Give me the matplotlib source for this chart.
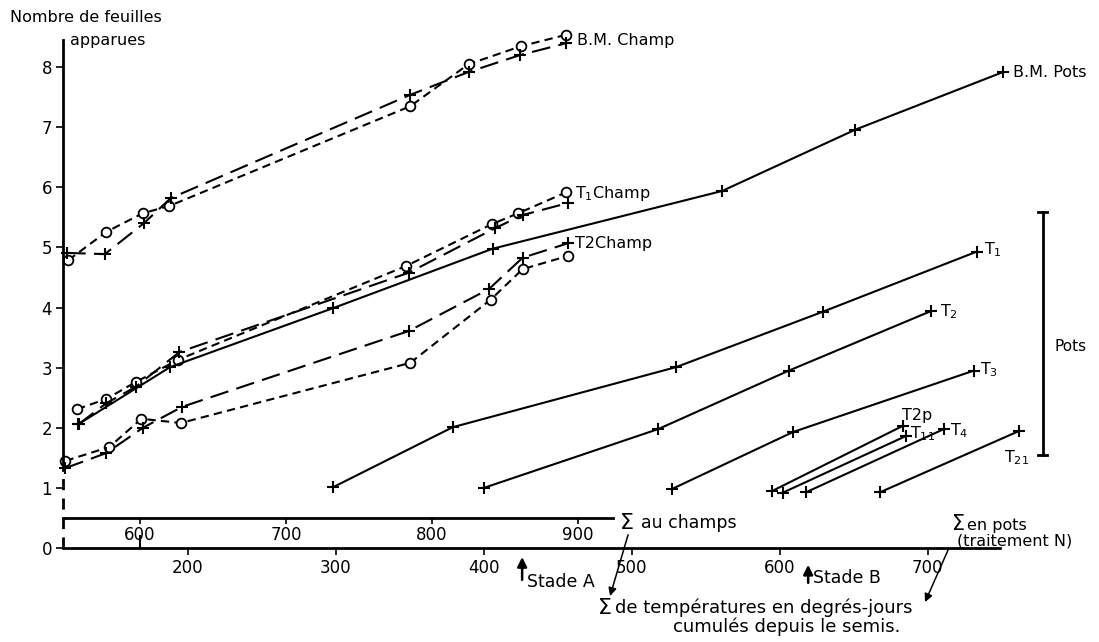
import numpy as np
import matplotlib
matplotlib.use("Agg")
import matplotlib.pyplot as plt

plt.rcParams['font.family'] = ['DejaVu Sans']

# sommes de temperatures : champ -> pots (echelle du bas)
def c_to_p(c):
    return 167.6 + (np.asarray(c, dtype=float) - 600) / 1.013

def p_to_c(p):
    return 600 + (np.asarray(p, dtype=float) - 167.6) * 1.013

# champ (degres-jours au champ)
bm_champ_o_x = [551, 577, 602, 620, 785, 825, 861, 892]
bm_champ_o_y = [4.79, 5.26, 5.57, 5.69, 7.35, 8.05, 8.35, 8.54]
bm_champ_c_x = [550, 576, 603, 621, 785, 825, 860, 892]
bm_champ_c_y = [4.91, 4.89, 5.41, 5.82, 7.54, 7.92, 8.20, 8.40]
t1_champ_o_x = [557, 577, 597, 626, 782, 841, 859, 892]
t1_champ_o_y = [2.31, 2.48, 2.76, 3.13, 4.69, 5.39, 5.57, 5.92]
t1_champ_c_x = [558, 577, 597, 627, 784, 843, 862, 893]
t1_champ_c_y = [2.06, 2.41, 2.68, 3.26, 4.58, 5.32, 5.54, 5.74]
t2_champ_o_x = [549, 579, 601, 628, 785, 840, 862, 893]
t2_champ_o_y = [1.45, 1.68, 2.15, 2.08, 3.08, 4.13, 4.64, 4.86]
t2_champ_c_x = [549, 577, 602, 629, 784, 839, 862, 893]
t2_champ_c_y = [1.33, 1.58, 2.00, 2.35, 3.61, 4.31, 4.83, 5.07]

# pots (degres-jours en pots)
bm_pots_x = [126, 188, 298, 406, 561, 651, 751]
bm_pots_y = [2.06, 3.01, 3.99, 4.98, 5.94, 6.96, 7.92]
t1_x = [298, 379, 530, 629, 733]
t1_y = [1.01, 2.01, 3.01, 3.93, 4.93]
t2_x = [400, 518, 606, 702]
t2_y = [1.00, 1.98, 2.95, 3.94]
t3_x = [527, 609, 731]
t3_y = [0.98, 1.93, 2.95]
t2p_x = [595, 683]
t2p_y = [0.95, 2.03]
t11_x = [602, 685]
t11_y = [0.92, 1.86]
t4_x = [618, 711]
t4_y = [0.93, 1.98]
t21_x = [668, 762]
t21_y = [0.93, 1.95]

pots_ticks = [200, 300, 400, 500, 600, 700]
champ_ticks = [600, 700, 800, 900]

fig = plt.figure(figsize=(10.99, 6.42), dpi=100)
ax = fig.add_axes([0, 0, 1, 1])
ymin, ymax = -1.564, 9.118
ax.set_xlim(73.03, 815.75)
ax.set_ylim(ymin, ymax)

lw = 1.5
short = (0, (4, 2.5))
longd = (0, (9, 4))
ax.plot(c_to_p(bm_champ_o_x), bm_champ_o_y, color='k', lw=lw, ls=short, marker='o', ms=7, mfc='white', mew=1.3)
ax.plot(c_to_p(bm_champ_c_x), bm_champ_c_y, color='k', lw=lw, ls=longd, marker='+', ms=8, mew=1.5)
ax.plot(c_to_p(t1_champ_o_x), t1_champ_o_y, color='k', lw=lw, ls=short, marker='o', ms=7, mfc='white', mew=1.3)
ax.plot(c_to_p(t1_champ_c_x), t1_champ_c_y, color='k', lw=lw, ls=longd, marker='+', ms=8, mew=1.5)
ax.plot(c_to_p(t2_champ_o_x), t2_champ_o_y, color='k', lw=lw, ls=short, marker='o', ms=7, mfc='white', mew=1.3)
ax.plot(c_to_p(t2_champ_c_x), t2_champ_c_y, color='k', lw=lw, ls=longd, marker='+', ms=8, mew=1.5)

for xs, ys in [(bm_pots_x, bm_pots_y), (t1_x, t1_y), (t2_x, t2_y), (t3_x, t3_y),
               (t2p_x, t2p_y), (t11_x, t11_y), (t4_x, t4_y), (t21_x, t21_y)]:
    ax.plot(xs, ys, color='k', lw=lw, marker='+', ms=8, mew=1.5)

# axes
ax.spines['top'].set_visible(False)
ax.spines['right'].set_visible(False)
ax.spines['left'].set_position(('data', 115.6))
ax.spines['left'].set_bounds(1.3, 8.45)
ax.spines['bottom'].set_position(('data', 0))
ax.spines['bottom'].set_bounds(115.6, 748.8)
for s in ['left', 'bottom']:
    ax.spines[s].set_linewidth(2)
ax.plot([115.6, 115.6], [0, 1.3], color='k', lw=2, ls=(0, (4, 3)))
ax.set_xticks(pots_ticks)
ax.set_yticks(range(0, 9))
ax.tick_params(direction='out', length=5, width=1.2, labelsize=12, pad=3)

sec = ax.secondary_xaxis((0.5 - ymin) / (ymax - ymin), functions=(p_to_c, c_to_p))
sec.spines['bottom'].set_bounds(547, 924)
sec.spines['bottom'].set_linewidth(2)
sec.set_xticks(champ_ticks)
sec.tick_params(direction='out', length=4, width=1.2, labelsize=12, pad=2)
ax.plot([c_to_p(600), c_to_p(600)], [0, 0.2], color='k', lw=1.5)

# etiquettes des courbes
fs = 11.5
ax.text(463, 8.44, "B.M. Champ", fontsize=fs, va='center')
ax.text(461.7, 5.9, r"T$_1$Champ", fontsize=fs, va='center')
ax.text(461.7, 5.06, "T2Champ", fontsize=fs, va='center')
ax.text(757.6, 7.92, "B.M. Pots", fontsize=fs, va='center')
ax.text(738, 4.96, r"T$_1$", fontsize=fs, va='center')
ax.text(708.4, 3.93, r"T$_2$", fontsize=fs, va='center')
ax.text(735.4, 2.96, r"T$_3$", fontsize=fs, va='center')
ax.text(682.6, 2.21, "T2p", fontsize=fs, va='center')
ax.text(688, 1.9, r"T$_{11}$", fontsize=fs, va='center')
ax.text(715.1, 1.95, r"T$_4$", fontsize=fs, va='center')
ax.text(751.6, 1.51, r"T$_{21}$", fontsize=fs, va='center')

# accolade Pots
ax.plot([777.6, 777.6], [1.55, 5.59], color='k', lw=2)
ax.plot([774.6, 780.6], [5.59, 5.59], color='k', lw=2)
ax.plot([774.6, 780.6], [1.55, 1.55], color='k', lw=2)
ax.text(786, 3.36, "Pots", fontsize=11, va='center')

# titres
ax.text(80, 8.82, "Nombre de feuilles", fontsize=11.5, va='center')
ax.text(120.4, 8.45, "apparues", fontsize=11.5, va='center')

ax.text(492, 0.42, "Σ", fontsize=16, va='center')
ax.text(506, 0.42, "au champs", fontsize=12.5, va='center')
ax.text(716.6, 0.40, "Σ", fontsize=15, va='center')
ax.text(726.5, 0.38, "en pots", fontsize=11.5, va='center')
ax.text(719.8, 0.12, "(traitement N)", fontsize=11.5, va='center')

ax.annotate("", xy=(425.9, -0.15), xytext=(425.9, -0.53),
            arrowprops=dict(arrowstyle='-|>', color='k', lw=1.8, mutation_scale=14,
                            shrinkA=0, shrinkB=0))
ax.text(429.2, -0.57, "Stade A", fontsize=12.5, va='center')
ax.annotate("", xy=(619.2, -0.28), xytext=(619.2, -0.58),
            arrowprops=dict(arrowstyle='-|>', color='k', lw=1.8, mutation_scale=14,
                            shrinkA=0, shrinkB=0))
ax.text(622.5, -0.5, "Stade B", fontsize=12.5, va='center')

ax.text(476.9, -1.0, "Σ", fontsize=16, va='center')
ax.text(488.5, -1.0, "de températures en degrés-jours", fontsize=13, va='center')
ax.text(527.6, -1.31, "cumulés depuis le semis.", fontsize=13, va='center')

ax.annotate("", xy=(485.3, -0.8), xytext=(497.5, 0.22),
            arrowprops=dict(arrowstyle='-|>', color='k', lw=1.1, mutation_scale=12,
                            shrinkA=0, shrinkB=0))
ax.annotate("", xy=(698.2, -0.9), xytext=(713.8, -0.03),
            arrowprops=dict(arrowstyle='-|>', color='k', lw=1.1, mutation_scale=12,
                            shrinkA=0, shrinkB=0))

fig.savefig("out.png", dpi=100)
